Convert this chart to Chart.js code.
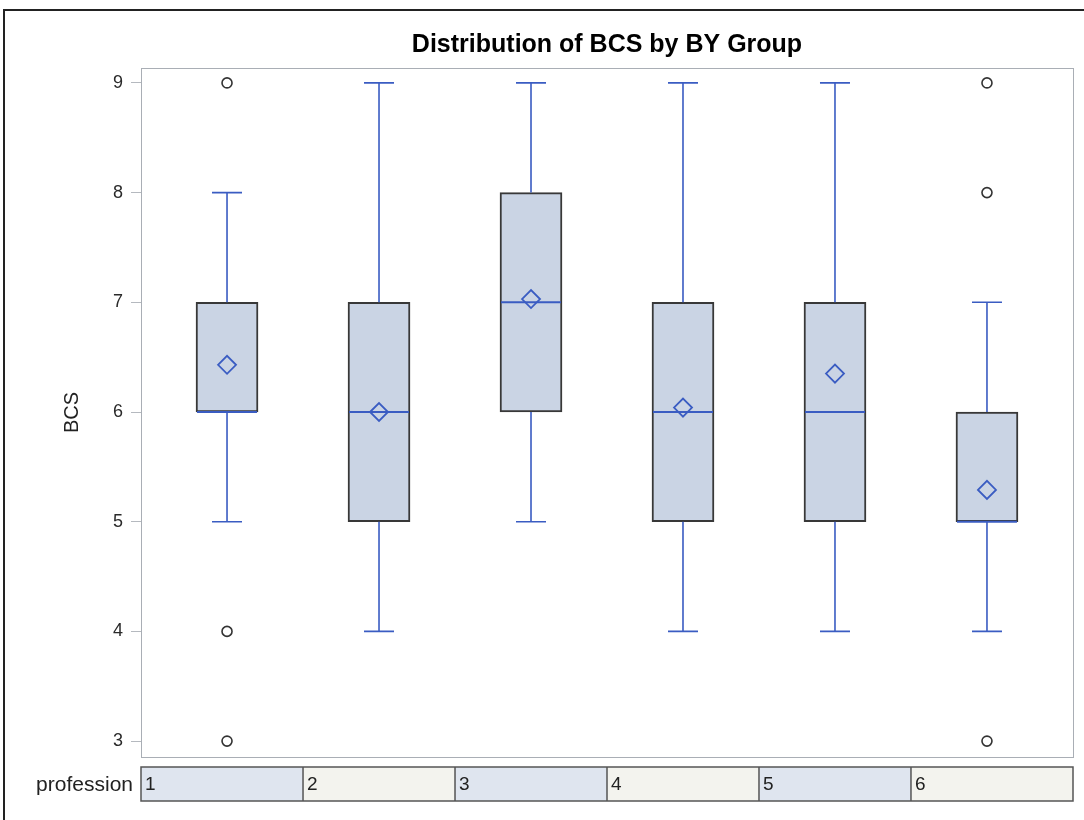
<!DOCTYPE html>
<html>
<head>
<meta charset="utf-8">
<script src="https://cdn.jsdelivr.net/npm/chart.js@4"></script>
<style>
  html, body { margin: 0; background: #fff; }
  #wrap { width: 1084px; height: 820px; }
</style>
</head>
<body>
<div id="wrap"><canvas id="boxChart" width="1084" height="820"></canvas></div>
<script>
// BCS box plot data per profession
const professions = ['1', '2', '3', '4', '5', '6'];
const whiskerLow = [5, 4, 5, 4, 4, 4];
const q1 = [6, 5, 6, 5, 5, 5];
const medians = [6, 6, 7, 6, 6, 5];
const q3 = [7, 7, 8, 7, 7, 6];
const whiskerHigh = [8, 9, 9, 9, 9, 7];
const means = [6.43, 6.0, 7.03, 6.04, 6.35, 5.29];
const outliers = [[9, 4, 3], [], [], [], [], [9, 8, 3]];
const yTicks = [3, 4, 5, 6, 7, 8, 9];

const FONT = '"Liberation Sans", Arial, sans-serif';
const BLUE = '#3a5cc2';

// whiskers, caps, medians, plot frame and the profession strip
const boxExtras = {
  id: 'boxExtras',
  beforeDraw(chart) {
    const ctx = chart.ctx;
    ctx.save();
    ctx.strokeStyle = '#222';
    ctx.lineWidth = 2;
    ctx.beginPath();
    ctx.moveTo(4, 820);
    ctx.lineTo(4, 10);
    ctx.lineTo(1084, 10);
    ctx.stroke();
    ctx.restore();
  },
  afterDatasetDraw(chart, args) {
    if (args.index !== 0) return;
    const ctx = chart.ctx;
    const xs = chart.scales.x, ys = chart.scales.y;
    const bars = chart.getDatasetMeta(0).data;
    ctx.save();
    professions.forEach((p, i) => {
      const x = xs.getPixelForValue(i + 1);
      const half = bars[i].width / 2;
      const capHalf = 15;
      ctx.strokeStyle = BLUE;
      ctx.lineWidth = 1.6;
      ctx.beginPath();
      ctx.moveTo(x, ys.getPixelForValue(whiskerLow[i]));
      ctx.lineTo(x, ys.getPixelForValue(q1[i]));
      ctx.moveTo(x, ys.getPixelForValue(q3[i]));
      ctx.lineTo(x, ys.getPixelForValue(whiskerHigh[i]));
      ctx.moveTo(x - capHalf, ys.getPixelForValue(whiskerLow[i]));
      ctx.lineTo(x + capHalf, ys.getPixelForValue(whiskerLow[i]));
      ctx.moveTo(x - capHalf, ys.getPixelForValue(whiskerHigh[i]));
      ctx.lineTo(x + capHalf, ys.getPixelForValue(whiskerHigh[i]));
      ctx.stroke();
      ctx.lineWidth = 2;
      ctx.beginPath();
      ctx.moveTo(x - half + 1, ys.getPixelForValue(medians[i]));
      ctx.lineTo(x + half - 1, ys.getPixelForValue(medians[i]));
      ctx.stroke();
    });
    ctx.restore();
  },
  afterDraw(chart) {
    const ctx = chart.ctx;
    const a = chart.chartArea;
    const xs = chart.scales.x;
    ctx.save();
    ctx.strokeStyle = '#a9aeb5';
    ctx.lineWidth = 1;
    ctx.strokeRect(a.left + 0.5, a.top + 0.5, a.right - a.left, a.bottom - a.top);

    // profession strip under the plot
    const top = a.bottom + 10, h = 34;
    const edges = [a.left];
    for (let i = 1; i < professions.length; i++) edges.push(xs.getPixelForValue(i + 0.5));
    edges.push(a.right);
    ctx.font = '19px ' + FONT;
    ctx.textBaseline = 'middle';
    professions.forEach((p, i) => {
      ctx.fillStyle = i % 2 === 0 ? '#dfe5ef' : '#f3f3ee';
      ctx.fillRect(edges[i], top, edges[i + 1] - edges[i], h);
      ctx.fillStyle = '#222';
      ctx.textAlign = 'left';
      ctx.fillText(p, edges[i] + 4, top + h / 2 + 1);
    });
    ctx.strokeStyle = '#555';
    ctx.lineWidth = 1.5;
    ctx.strokeRect(a.left, top, a.right - a.left, h);
    ctx.beginPath();
    for (let i = 1; i < edges.length - 1; i++) {
      ctx.moveTo(edges[i], top);
      ctx.lineTo(edges[i], top + h);
    }
    ctx.stroke();
    ctx.fillStyle = '#222';
    ctx.font = '21px ' + FONT;
    ctx.textAlign = 'right';
    ctx.fillText('profession', a.left - 8, top + h / 2 + 1);
    ctx.restore();
  }
};

const ctx = document.getElementById('boxChart').getContext('2d');

const outlierPoints = [];
outliers.forEach((vals, i) => vals.forEach(v => outlierPoints.push({ x: i + 1, y: v })));

const boxChart = new Chart(ctx, {
  type: 'bar',
  data: {
    datasets: [{
      label: 'IQR',
      data: professions.map((p, i) => ({ x: i + 1, y: [q1[i], q3[i]] })),
      backgroundColor: '#cad4e4',
      borderColor: '#383838',
      borderWidth: 2,
      borderSkipped: false,
      barThickness: 62,
      order: 3
    }, {
      type: 'scatter',
      label: 'Mean',
      data: professions.map((p, i) => ({ x: i + 1, y: means[i] })),
      pointStyle: 'rectRot',
      pointRadius: 9,
      borderColor: BLUE,
      borderWidth: 1.8,
      backgroundColor: 'rgba(0,0,0,0)',
      order: 1
    }, {
      type: 'scatter',
      label: 'Outliers',
      data: outlierPoints,
      pointStyle: 'circle',
      pointRadius: 5,
      borderColor: '#333',
      borderWidth: 1.6,
      backgroundColor: '#fff',
      order: 2
    }]
  },
  options: {
    responsive: false,
    devicePixelRatio: 1,
    animation: false,
    layout: { padding: { left: 0, right: 11, bottom: 63 } },
    plugins: {
      legend: { display: false },
      tooltip: { enabled: false },
      title: {
        display: true,
        fullSize: false,
        text: 'Distribution of BCS by BY Group',
        color: '#000',
        font: { family: FONT, size: 25, weight: 'bold' },
        padding: { top: 30, bottom: 8 }
      }
    },
    scales: {
      x: {
        type: 'linear',
        min: 0.434,
        max: 6.566,
        offset: false,
        display: false
      },
      y: {
        min: 2.855,
        max: 9.136,
        afterBuildTicks: (scale) => { scale.ticks = yTicks.map(v => ({ value: v })); },
        afterFit: (scale) => { scale.width = 141; },
        border: { display: false },
        grid: { drawOnChartArea: false, tickLength: 10, color: '#b5b9bf' },
        ticks: { color: '#2a2a2a', padding: 8, font: { family: FONT, size: 18 } },
        title: {
          display: true,
          text: 'BCS',
          color: '#222',
          font: { family: FONT, size: 20 },
          padding: { top: 60, bottom: 0 }
        }
      }
    }
  },
  plugins: [boxExtras]
});
</script>
</body>
</html>
